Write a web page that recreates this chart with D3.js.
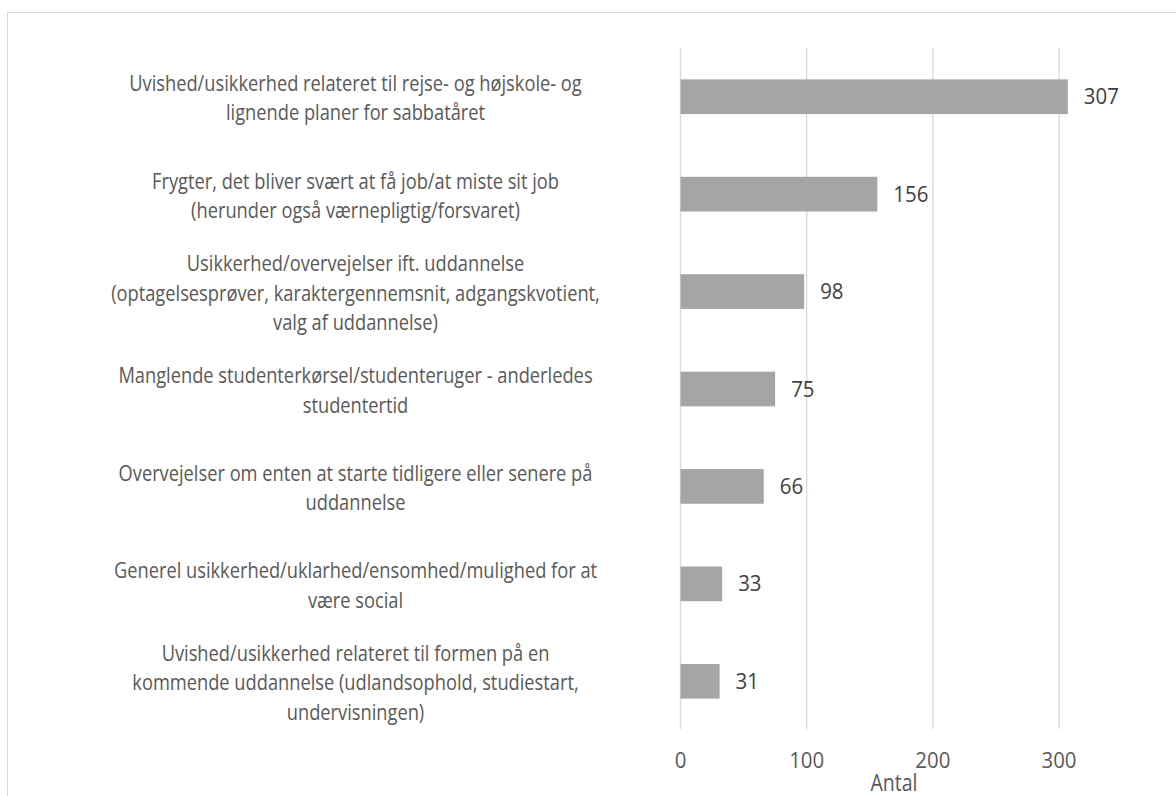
<!DOCTYPE html>
<html>
<head>
<meta charset="utf-8">
<script src="https://cdn.jsdelivr.net/npm/d3@7"></script>
<style>
  html, body { margin: 0; padding: 0; background: #fff; }
  svg { display: block; }
</style>
</head>
<body>
<div id="chart"></div>
<script>
const categories = [
    ["Uvished/usikkerhed relateret til rejse- og højskole- og", "lignende planer for sabbatåret"],
    ["Frygter, det bliver svært at få job/at miste sit job", "(herunder også værnepligtig/forsvaret)"],
    ["Usikkerhed/overvejelser ift. uddannelse", "(optagelsesprøver, karaktergennemsnit, adgangskvotient,", "valg af uddannelse)"],
    ["Manglende studenterkørsel/studenteruger - anderledes", "studentertid"],
    ["Overvejelser om enten at starte tidligere eller senere på", "uddannelse"],
    ["Generel usikkerhed/uklarhed/ensomhed/mulighed for at", "være social"],
    ["Uvished/usikkerhed relateret til formen på en", "kommende uddannelse (udlandsophold, studiestart,", "undervisningen)"]
];
const values = [307, 156, 98, 75, 66, 33, 31];
const tickValues = [0, 100, 200, 300];
const axisTitle = "Antal";

const width = 1176, height = 796;
const fontFamily = "'Open Sans', sans-serif";
const fs = 21.5;
const sx = 0.85;    // text in the original is a little squeezed sideways
const sxNum = 0.95; // digits are squeezed less

const svg = d3.select("#chart").append("svg")
    .attr("width", width)
    .attr("height", height)
    .style("font-family", fontFamily);

// chart frame
svg.append("rect")
    .attr("x", 7.5).attr("y", 12.5)
    .attr("width", 1180).attr("height", 800)
    .attr("fill", "none")
    .attr("stroke", "#d9d9d9");

const x = d3.scaleLinear().domain([0, 300]).range([680.5, 1059]);
const y = d3.scaleBand()
    .domain(d3.range(values.length))
    .range([48, 730])
    .paddingInner(0.644)
    .paddingOuter(0.322);

// gridlines
svg.append("g")
    .selectAll("line")
    .data(tickValues)
    .join("line")
    .attr("x1", d => x(d)).attr("x2", d => x(d))
    .attr("y1", 48).attr("y2", 729)
    .attr("stroke", "#d9d9d9")
    .attr("stroke-width", 1.3);

// bars
svg.append("g")
    .selectAll("rect")
    .data(values)
    .join("rect")
    .attr("x", x(0))
    .attr("y", (d, i) => y(i))
    .attr("width", d => x(d) - x(0))
    .attr("height", y.bandwidth())
    .attr("fill", "#a5a5a5");

// value labels
svg.append("g")
    .selectAll("text")
    .data(values)
    .join("text")
    .attr("transform", (d, i) => `translate(${x(d) + 16},${y(i) + y.bandwidth() / 2}) scale(${sxNum},1)`)
    .attr("dy", "0.35em")
    .attr("font-size", fs)
    .attr("fill", "#404040")
    .text(d => d);

// category labels, lines centred on one another
const labelCenter = 355.5;
const lineH = 29.3;
const labels = svg.append("g")
    .selectAll("text")
    .data(categories)
    .join("text")
    .attr("transform", (d, i) => `translate(${labelCenter},${y(i) + y.bandwidth() / 2 + 1.5}) scale(${sx},1)`)
    .attr("text-anchor", "middle")
    .attr("font-size", fs)
    .attr("fill", "#595959");

labels.selectAll("tspan")
    .data(d => d.map((t, j) => ({t, j, n: d.length})))
    .join("tspan")
    .attr("x", 0)
    .attr("y", d => (d.j - (d.n - 1) / 2) * lineH)
    .attr("dy", "0.35em")
    .text(d => d.t);

// x axis tick labels
svg.append("g")
    .selectAll("text")
    .data(tickValues)
    .join("text")
    .attr("transform", d => `translate(${x(d)},768) scale(${sxNum},1)`)
    .attr("text-anchor", "middle")
    .attr("font-size", fs)
    .attr("fill", "#595959")
    .text(d => d);

svg.append("text")
    .attr("transform", `translate(894,791) scale(${sx},1)`)
    .attr("text-anchor", "middle")
    .attr("font-size", 23)
    .attr("fill", "#595959")
    .text(axisTitle);
</script>
</body>
</html>
